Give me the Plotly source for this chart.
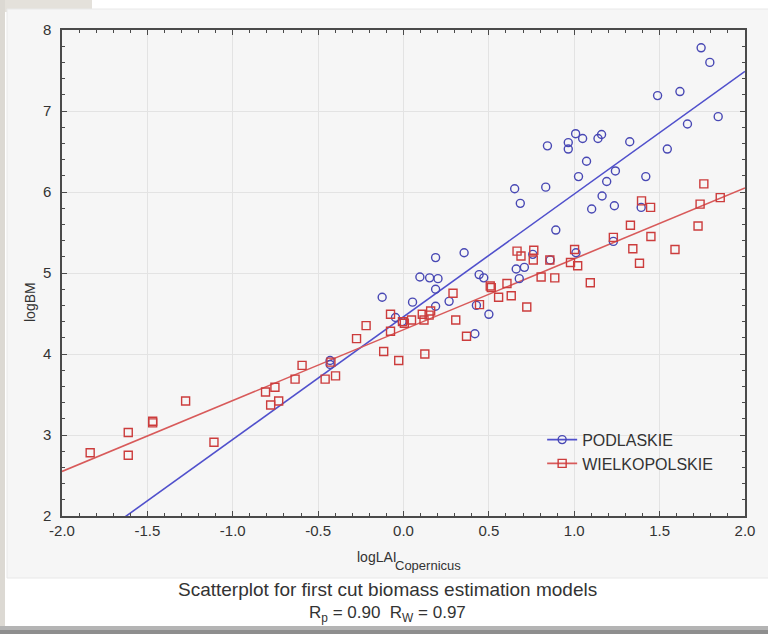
import plotly.graph_objects as go

# ---- data ----
pod_x = [-0.43, -0.43, -0.125, -0.047, -0.008, 0.053, 0.096, 0.153, 0.188, 0.202, 0.188, 0.188,
         0.267, 0.355, 0.418, 0.427, 0.443, 0.47, 0.50, 0.651, 0.684, 0.66, 0.708, 0.678, 0.757,
         0.833, 0.843, 0.859, 0.892, 0.965, 0.965, 1.008, 1.01, 1.025, 1.049, 1.072, 1.102, 1.139,
         1.16, 1.163, 1.19, 1.229, 1.235, 1.241, 1.325, 1.392, 1.419, 1.488, 1.545, 1.619, 1.663,
         1.743, 1.794, 1.843]
pod_y = [3.92, 3.87, 4.70, 4.45, 4.40, 4.64, 4.95, 4.94, 5.19, 4.93, 4.80, 4.59,
         4.65, 5.25, 4.25, 4.60, 4.98, 4.94, 4.49, 6.04, 5.86, 5.05, 5.07, 4.93, 5.23,
         6.06, 6.57, 5.16, 5.53, 6.61, 6.53, 6.72, 5.25, 6.19, 6.66, 6.38, 5.79, 6.66,
         6.71, 5.95, 6.13, 5.39, 5.83, 6.26, 6.62, 5.81, 6.19, 7.19, 6.53, 7.24, 6.84,
         7.78, 7.60, 6.93]

wlk_x = [-1.835, -1.612, -1.612, -1.469, -1.469, -1.276, -1.11, -0.808, -0.778, -0.753, -0.731,
         -0.635, -0.594, -0.459, -0.425, -0.398, -0.275, -0.219, -0.116, -0.076, -0.076, -0.028,
         -0.006, 0.005, 0.047, 0.11, 0.12, 0.125, 0.15, 0.159, 0.29, 0.306, 0.369, 0.445, 0.508,
         0.514, 0.557, 0.606, 0.631, 0.665, 0.688, 0.722, 0.76, 0.763, 0.806, 0.857, 0.886, 0.978,
         1.002, 1.02, 1.094, 1.229, 1.329, 1.343, 1.382, 1.394, 1.447, 1.449, 1.59, 1.725, 1.737,
         1.759, 1.855]
wlk_y = [2.78, 3.03, 2.75, 3.17, 3.15, 3.42, 2.91, 3.53, 3.37, 3.59, 3.42,
         3.69, 3.86, 3.69, 3.90, 3.73, 4.19, 4.35, 4.03, 4.49, 4.28, 3.92,
         4.40, 4.38, 4.42, 4.49, 4.42, 4.00, 4.48, 4.53, 4.75, 4.42, 4.22, 4.61, 4.84,
         4.82, 4.70, 4.87, 4.72, 5.27, 5.21, 4.58, 5.16, 5.28, 4.95, 5.16, 4.94, 5.13,
         5.29, 5.09, 4.88, 5.44, 5.59, 5.30, 5.12, 5.89, 5.81, 5.45, 5.29, 5.58, 5.85,
         6.10, 5.93]

# fitted model coefficients (slope, intercept) as drawn in the reference
pod_fit = (1.515, 4.46)
wlk_fit = (0.875, 4.30)

series_names = ["PODLASKIE", "WIELKOPOLSKIE"]
x_ticks = [-2.0, -1.5, -1.0, -0.5, 0.0, 0.5, 1.0, 1.5, 2.0]
y_ticks = [2, 3, 4, 5, 6, 7, 8]
x_range = [-2.0, 2.0]
y_range = [2, 8]

blue = "#4848b4"
blue_line = "#5050cc"
red = "#cc3c3c"
red_line = "#d85a5a"

fig = go.Figure()

def fit_line(coef):
    xs = [x_range[0], x_range[1]]
    return xs, [coef[0] * v + coef[1] for v in xs]

lx, ly = fit_line(pod_fit)
fig.add_trace(go.Scatter(x=lx, y=ly, mode="lines", line=dict(color=blue_line, width=1.6),
                         showlegend=False, hoverinfo="skip"))
lx, ly = fit_line(wlk_fit)
fig.add_trace(go.Scatter(x=lx, y=ly, mode="lines", line=dict(color=red_line, width=1.6),
                         showlegend=False, hoverinfo="skip"))

fig.add_trace(go.Scatter(x=pod_x, y=pod_y, mode="markers", showlegend=False,
                         marker=dict(symbol="circle-open", size=8, color=blue, line=dict(width=1.4))))
fig.add_trace(go.Scatter(x=wlk_x, y=wlk_y, mode="markers", showlegend=False,
                         marker=dict(symbol="square-open", size=8, color=red, line=dict(width=1.4))))

# legend entries (line + marker)
fig.add_trace(go.Scatter(x=[None], y=[None], mode="lines+markers", name=series_names[0],
                         line=dict(color=blue_line, width=1.6),
                         marker=dict(symbol="circle-open", size=8, color=blue, line=dict(width=1.4))))
fig.add_trace(go.Scatter(x=[None], y=[None], mode="lines+markers", name=series_names[1],
                         line=dict(color=red_line, width=1.6),
                         marker=dict(symbol="square-open", size=8, color=red, line=dict(width=1.4))))

W, H = 768, 634
L, R, T, B = 62, 23, 30, 118
pw, ph = W - L - R, H - T - B

def px(x):
    return (x - L) / pw

def py(y):
    return (H - B - y) / ph

shapes = [
    dict(type="rect", xref="paper", yref="paper", x0=px(0), x1=px(W), y0=py(H), y1=py(0),
         fillcolor="#ffffff", line=dict(width=0), layer="below"),
    dict(type="rect", xref="paper", yref="paper", x0=px(0), x1=px(92), y0=py(12), y1=py(0),
         fillcolor="#e4e1db", line=dict(width=0), layer="below"),
    dict(type="rect", xref="paper", yref="paper", x0=px(0), x1=px(5), y0=py(H), y1=py(0),
         fillcolor="#dcd9d3", line=dict(width=0), layer="below"),
    dict(type="rect", xref="paper", yref="paper", x0=px(0), x1=px(W), y0=py(H), y1=py(630),
         fillcolor="#8e8e8e", line=dict(width=0), layer="below"),
    dict(type="rect", xref="paper", yref="paper", x0=px(0), x1=px(W), y0=py(630), y1=py(626),
         fillcolor="#b4b4b4", line=dict(width=0), layer="below"),
    dict(type="rect", xref="paper", yref="paper", x0=px(7), x1=px(W + 2), y0=py(578), y1=py(9),
         fillcolor="#f6f6f6", line=dict(color="#e8e8e8", width=1), layer="below"),
]

txt = "#333333"
fig.update_layout(
    width=W, height=H,
    margin=dict(l=L, r=R, t=T, b=B),
    paper_bgcolor="#ffffff",
    plot_bgcolor="#f6f6f6",
    font=dict(family="Liberation Sans, Arial, sans-serif", color=txt, size=15),
    shapes=shapes,
    showlegend=True,
    legend=dict(x=0.703, y=0.192, xanchor="left", yanchor="top", bgcolor="rgba(0,0,0,0)",
                font=dict(size=16, color=txt), tracegroupgap=0, itemwidth=30),
    xaxis=dict(range=x_range, tickvals=x_ticks, ticktext=[f"{v:.1f}" for v in x_ticks],
               showline=True, linecolor="#4a4a4a", linewidth=1.5, mirror="ticks",
               ticks="inside", ticklen=5, tickcolor="#4a4a4a", zeroline=False,
               showgrid=True, gridcolor="#e3e3e3", gridwidth=1,
               minor=dict(dtick=0.1, ticks="inside", ticklen=3, tickcolor="#4a4a4a", showgrid=False),
               tickfont=dict(size=15, color=txt)),
    yaxis=dict(range=y_range, tickvals=y_ticks, ticklabelstandoff=6,
               showline=True, linecolor="#4a4a4a", linewidth=1.5, mirror="ticks",
               ticks="inside", ticklen=5, tickcolor="#4a4a4a", zeroline=False,
               showgrid=True, gridcolor="#e3e3e3", gridwidth=1,
               minor=dict(dtick=0.2, ticks="inside", ticklen=3, tickcolor="#4a4a4a", showgrid=False),
               tickfont=dict(size=15, color=txt)),
    annotations=[
        dict(text="logBM", xref="paper", yref="paper", x=px(30), y=py(302), textangle=-90,
             showarrow=False, font=dict(size=14, color=txt), xanchor="center", yanchor="middle"),
        dict(text="logLAI", xref="paper", yref="paper", x=px(398), y=py(557),
             showarrow=False, font=dict(size=14, color=txt), xanchor="right", yanchor="middle",
             borderpad=0),
        dict(text="Copernicus", xref="paper", yref="paper", x=px(394), y=py(565),
             showarrow=False, font=dict(size=13, color=txt), xanchor="left", yanchor="middle",
             borderpad=0),
        dict(text="Scatterplot for first cut biomass estimation models", xref="paper", yref="paper",
             x=px(387), y=py(589), showarrow=False, font=dict(size=19, color=txt),
             xanchor="center", yanchor="middle", borderpad=0),
        dict(text="R<sub>p</sub> = 0.90  R<sub>W</sub> = 0.97", xref="paper", yref="paper",
             x=px(387), y=py(614), showarrow=False, font=dict(size=17, color=txt),
             xanchor="center", yanchor="middle", borderpad=0),
    ],
)

fig.write_html("out.html")
